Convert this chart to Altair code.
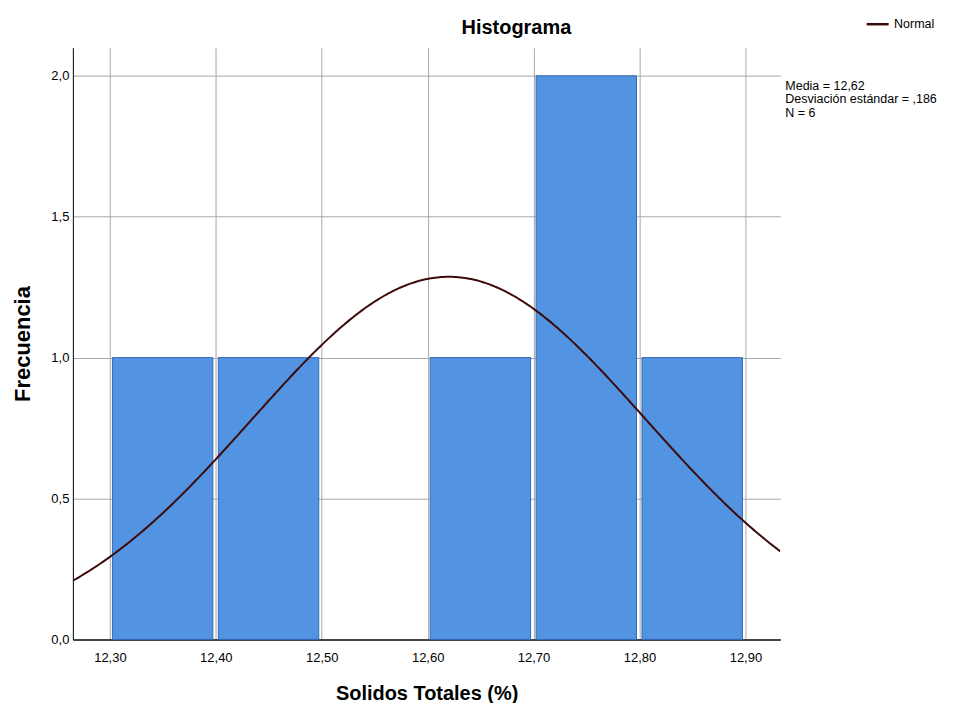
import altair as alt
import pandas as pd

# ---- data ----
bin_start = [12.30, 12.40, 12.50, 12.60, 12.70, 12.80]
bin_end = [12.40, 12.50, 12.60, 12.70, 12.80, 12.90]
frecuencia = [1, 1, 0, 1, 2, 1]

media = 12.62
desviacion = 0.186
n_casos = 6
ancho_bin = 0.1

x_ticks = [12.30, 12.40, 12.50, 12.60, 12.70, 12.80, 12.90]
y_ticks = [0.0, 0.5, 1.0, 1.5, 2.0]
stats_lines = ["Media = 12,62", "Desviación estándar = ,186", "N = 6"]
serie_nombre = ["Normal"]

x_domain = [12.265, 12.933]
y_domain = [0, 2.1]

FONT = "Liberation Sans, Arial, Helvetica, sans-serif"

bars_df = pd.DataFrame({"inicio": bin_start, "fin": bin_end, "frecuencia": frecuencia})

xscale = alt.Scale(domain=x_domain, nice=False, zero=False)
yscale = alt.Scale(domain=y_domain, nice=False, zero=True)

xaxis = alt.Axis(
    values=x_ticks,
    labelExpr="replace(format(datum.value, '.2f'), '.', ',')",
    grid=True, gridColor="#a8a8a8", gridWidth=1,
    ticks=False, domainColor="#444444", domainWidth=2,
    labelFont=FONT, labelFontSize=13, labelColor="#000000", labelPadding=12,
    titleFont=FONT, titleFontSize=20, titleFontWeight="bold", titleColor="#000000",
    titlePadding=19, labelOverlap=False,
)
yaxis = alt.Axis(
    values=y_ticks,
    labelExpr="replace(format(datum.value, '.1f'), '.', ',')",
    grid=True, gridColor="#a8a8a8", gridWidth=1,
    ticks=False, domainColor="#000000", domainWidth=1,
    labelFont=FONT, labelFontSize=13, labelColor="#000000", labelPadding=4,
    titleFont=FONT, titleFontSize=22, titleFontWeight="bold", titleColor="#000000",
    titlePadding=16, labelOverlap=False,
)

bars = alt.Chart(bars_df).transform_filter("datum.frecuencia > 0").mark_bar(
    color="#5294e2", stroke="#3469b3", strokeWidth=1, xOffset=2.5, x2Offset=-3
).encode(
    x=alt.X("inicio:Q", scale=xscale, axis=xaxis, title="Solidos Totales (%)"),
    x2="fin:Q",
    y=alt.Y("frecuencia:Q", scale=yscale, axis=yaxis, title="Frecuencia"),
    y2=alt.datum(0),
)

curve = alt.Chart(alt.sequence(x_domain[0], x_domain[1] + 0.002, 0.002, as_="x")).transform_calculate(
    y=f"{n_casos * ancho_bin} * exp(-0.5 * pow((datum.x - {media}) / {desviacion}, 2)) / ({desviacion} * sqrt(2 * PI))",
    serie=f"'{serie_nombre[0]}'",
).mark_line(strokeWidth=2, clip=True).encode(
    x=alt.X("x:Q", scale=xscale),
    y=alt.Y("y:Q", scale=yscale),
    color=alt.Color(
        "serie:N",
        scale=alt.Scale(domain=serie_nombre, range=["#3d0b0b"]),
        legend=alt.Legend(
            orient="none", legendX=794, legendY=-36, title=None,
            symbolType="stroke", symbolStrokeWidth=2.5, symbolSize=484,
            labelFont=FONT, labelFontSize=12.5, labelColor="#000000", labelOffset=4,
            padding=0,
        ),
    ),
)

stats = alt.Chart(pd.DataFrame({"k": [0]})).mark_text(
    text=stats_lines, align="left", baseline="top", lineHeight=13.5,
    font=FONT, fontSize=12.5, color="#000000",
).encode(x=alt.value(714), y=alt.value(32))

chart = alt.layer(bars, curve, stats).properties(
    width=709, height=593,
    title=alt.TitleParams("Histograma", font=FONT, fontSize=20, fontWeight="bold",
                          color="#000000", anchor="middle", frame="group", dx=90, offset=-26),
    autosize=alt.AutoSizeParams(type="none"),
    padding={"left": 65, "top": 39, "right": 166, "bottom": 63},
).configure_view(stroke=None)

chart.save("out.html", embed_options={"renderer": "svg", "actions": False})
